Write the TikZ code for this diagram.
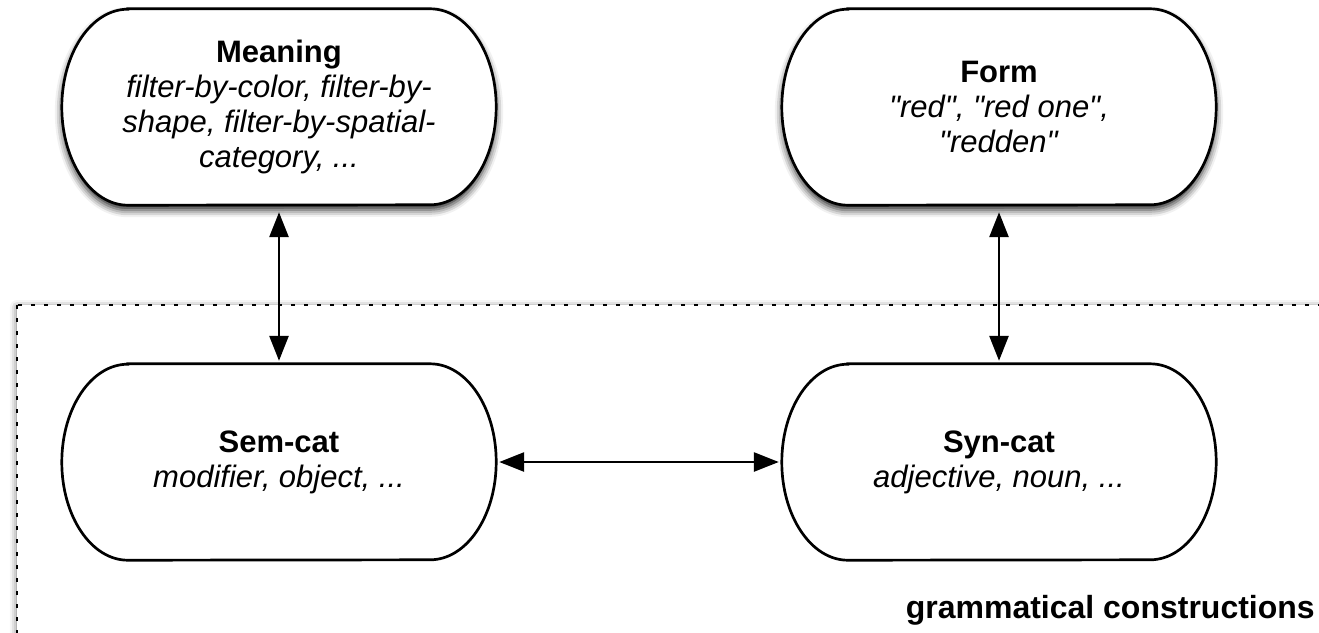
\documentclass[tikz,border=0pt]{standalone}
\usepackage{fontspec}
\setmainfont{Liberation Sans}
\usetikzlibrary{arrows.meta,shadows.blur,calc}

\pgfdeclarelayer{background}
\pgfsetlayers{background,main}

% text size used inside the boxes
\newcommand\boxfont{\fontsize{31}{35}\selectfont}
% horizontal and vertical radii of the rounded ends
\newcommand\pillrx{66}
\newcommand\pillry{98}
% straight double quote
\newcommand\q{\textquotedbl}

% outline of a box with elliptical ends, drawn around a named node
\newcommand\drawpill[2][]{%
  \begin{scope}
  \path[pilledge,#1]
    ($(#2.north west)+(\pillrx,0)$) -- ($(#2.north east)+(-\pillrx,0)$)
    arc[start angle=90,end angle=-90,x radius=\pillrx,y radius=\pillry]
    -- ($(#2.south west)+(\pillrx,0)$)
    arc[start angle=270,end angle=90,x radius=\pillrx,y radius=\pillry]
    -- cycle;
  \end{scope}}

\tikzset{
  pill/.style={minimum width=434pt, minimum height=196pt, inner sep=0pt,
    align=center, font=\boxfont},
  pilledge/.style={draw=black, line width=2.7pt, fill=white},
  raised/.style={blur shadow={shadow xshift=0pt, shadow yshift=-5pt,
    shadow blur radius=7pt, shadow opacity=85}},
  link/.style={line width=2.7pt, draw=black, fill=black, opacity=1,
    {Triangle[length=25pt,width=19pt,fill=black]}-{Triangle[length=25pt,width=19pt,fill=black]}},
  region/.style={draw=black, line width=2.8pt, dash pattern=on 4pt off 9pt,
    fill=white, blur shadow={shadow xshift=0pt, shadow yshift=-2pt,
    shadow blur radius=7pt, shadow opacity=60}},
  caption/.style={font=\fontsize{32}{36}\selectfont\bfseries, inner sep=0pt,
    anchor=base east},
}

\begin{document}
\begin{tikzpicture}[x=1pt,y=1pt]
\useasboundingbox (0,0) rectangle (1319,-632);

% the four boxes
\node[pill] (meaning) at (279,-107)
  {\textbf{Meaning}\\\textit{filter-by-color, filter-by-}\\
   \textit{shape, filter-by-spatial-}\\\textit{category, ...}};
\node[pill] (form) at (999,-107)
  {\textbf{Form}\\\textit{\q red\q, \q red one\q,}\\\textit{\q redden\q}};
\node[pill] (semcat) at (279,-462)
  {\textbf{Sem-cat}\\\textit{modifier, object, ...}};
\node[pill] (syncat) at (999,-462)
  {\textbf{Syn-cat}\\\textit{adjective, noun, ...}};

\node[caption] (gc) at (1315,-618) {grammatical constructions};

% links between the boxes
\draw[link, shorten <=7pt, shorten >=3pt] (meaning.south) -- (semcat.north);
\draw[link, shorten <=7pt, shorten >=3pt] (form.south) -- (syncat.north);
\draw[link, shorten <=3pt, shorten >=3pt] (semcat.east) -- (syncat.west);

\begin{pgfonlayer}{background}
  \begin{scope}
    % dotted region holding the grammatical constructions
    \path[region] (17,-305) rectangle (1370,-690);
  \end{scope}
  \drawpill[raised]{meaning}
  \drawpill[raised]{form}
  \drawpill{semcat}
  \drawpill{syncat}
\end{pgfonlayer}
\end{tikzpicture}
\end{document}
